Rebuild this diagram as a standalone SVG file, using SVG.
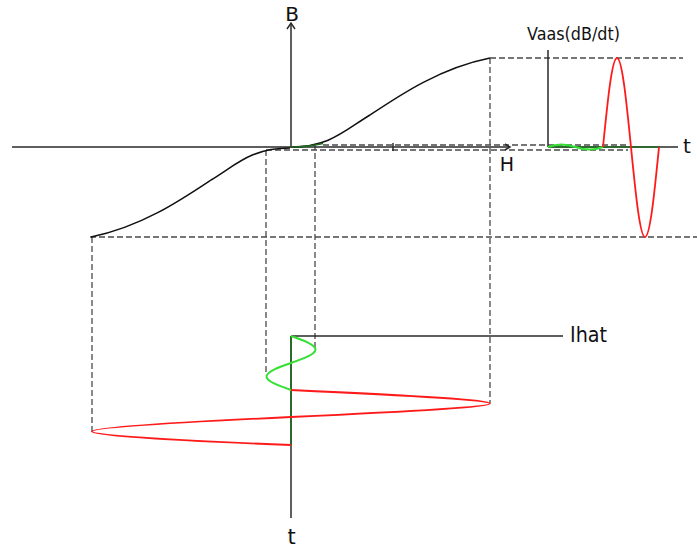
<svg xmlns="http://www.w3.org/2000/svg" width="697" height="549" viewBox="0 0 697 549">
<style>
.ax{fill:none;stroke:#2a2a2a;stroke-width:1.5}
.dash{fill:none;stroke:#4a4a4a;stroke-width:1.3;stroke-dasharray:6,3}
.curve{fill:none;stroke:#111;stroke-width:1.5}
.red{fill:none;stroke:#ff1a1a;stroke-width:1.8}
.grn{fill:none;stroke:#33e033;stroke-width:2}
.dgrn{fill:none;stroke:#1f6b1f;stroke-width:1.6}
.lbl{font-family:"DejaVu Sans",sans-serif;fill:#111}
</style>
<rect width="697" height="549" fill="#fff"/>
<g id="projections">
<path class="dash" d="M490,58H683"/>
<path class="dash" d="M90,237H697"/>
<path class="dash" d="M323,145H628"/>
<path class="dash" d="M266,150H628"/>
<path class="dash" d="M490,58V403"/>
<path class="dash" d="M92,237V432"/>
<path class="dash" d="M266,150V374"/>
<path class="dash" d="M315,144V349"/>
</g>
<g id="bh-plot">
<path class="ax" d="M12,147H510"/>
<path class="ax" d="M505,144L510,147L505,150"/>
<path class="ax" d="M393,143V151" stroke-width="1.2"/>
<path class="ax" d="M291,147V24"/>
<path class="ax" d="M287,29L291,23L295,29"/>
<path class="curve" d="M291,147 C330,147 345,130 370,115 C400,95 440,68 490,58"/>
<path class="curve" d="M290,148 C251,148 236,165 211,180 C181,200 141,227 91,237"/>
<path class="dgrn" d="M291,147 C303,147 312,146 323,143.5"/>
<text class="lbl" x="292" y="21" font-size="20" text-anchor="middle">B</text>
<text class="lbl" x="507" y="171" font-size="19" text-anchor="middle">H</text>
</g>
<g id="vaas-plot">
<path class="ax" d="M548,50V147"/>
<path class="ax" d="M548,147H678"/>
<path class="dgrn" d="M548,147H660" stroke-width="1.2"/>
<path class="grn" stroke-width="1.5" d="M548,147 C557,143.5 566,143.5 575.5,147 C585,150.5 594,150.5 603,147"/>
<path class="red" d="M603,147 C607.57,101.41 611.93,58 617,58 C622.07,58 626.43,101.41 631,147 C635.57,193 639.93,237 645,237 C650.07,237 654.43,193 659,147"/>
<text class="lbl" x="573.5" y="39.5" font-size="17" text-anchor="middle" textLength="93" lengthAdjust="spacingAndGlyphs">Vaas(dB/dt)</text>
<text class="lbl" x="687" y="153" font-size="20" text-anchor="middle">t</text>
</g>
<g id="current-plot">
<path class="ax" d="M291,336H563"/>
<path class="ax" d="M291,336V518"/>
<path class="dgrn" d="M291,336V445"/>
<path class="grn" d="M291,336 C303.55,340.4 315.5,344.61 315.5,349.5 C315.5,354.39 303.55,358.6 291,363 C278.45,367.4 266.5,371.61 266.5,376.5 C266.5,381.39 278.45,385.6 291,390"/>
<path class="red" d="M291,390 C420,396 490,400 490,403.5 C490,407 420,411 291,417 C162,423 92,428 92,431.5 C92,435 162,440 291,445"/>
<text class="lbl" x="570" y="342" font-size="21" textLength="37" lengthAdjust="spacingAndGlyphs">Ihat</text>
<text class="lbl" x="291.5" y="544" font-size="21" text-anchor="middle">t</text>
</g>
</svg>
